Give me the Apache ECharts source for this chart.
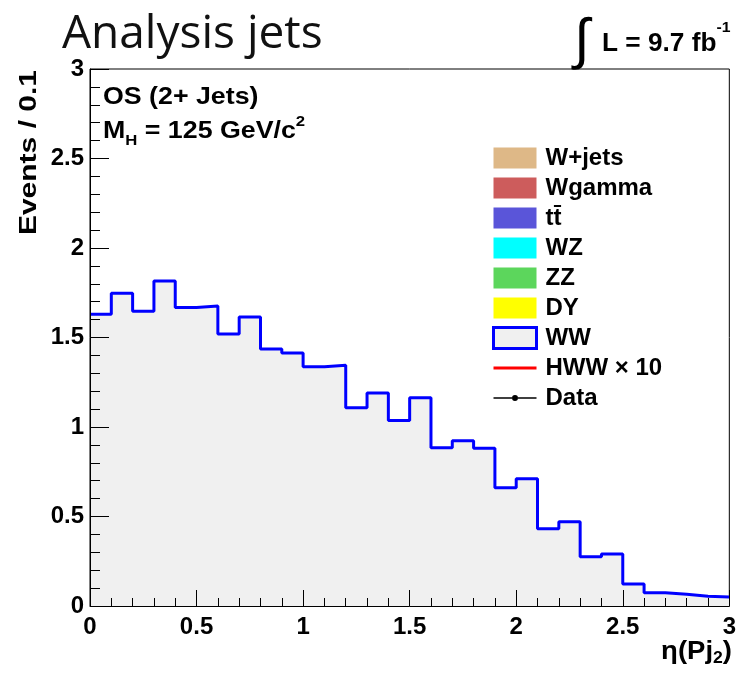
<!DOCTYPE html>
<html>
<head>
<meta charset="utf-8">
<script src="https://cdn.jsdelivr.net/npm/echarts@6/dist/echarts.min.js"></script>
<style>
html,body{margin:0;padding:0;background:#fff;}
#chart{width:739px;height:673px;}
</style>
</head>
<body>
<div id="chart"></div>
<script>
// ---- data ----
const binLow = [0.0,0.1,0.2,0.3,0.4,0.5,0.6,0.7,0.8,0.9,1.0,1.1,1.2,1.3,1.4,1.5,1.6,1.7,1.8,1.9,2.0,2.1,2.2,2.3,2.4,2.5,2.6,2.7,2.8,2.9];
const binWidth = 0.1;
const wwValues = [1.63,1.747,1.646,1.816,1.667,1.676,1.52,1.615,1.436,1.413,1.337,1.345,1.108,1.19,1.037,1.164,0.884,0.923,0.881,0.661,0.711,0.432,0.471,0.275,0.29,0.123,0.074,0.065,0.054,0.05];
const xTicks = [0,0.5,1,1.5,2,2.5,3];
const yTicks = [0,0.5,1,1.5,2,2.5,3];
const legendNames = ['W+jets','Wgamma','tt\u0304','WZ','ZZ','DY','WW','HWW \u00d7 10','Data'];
const fillColors = ['#deb887','#cd5c5c','#5a55d9','#00ffff','#5cd65c','#ffff00'];

// histogram outline points (left bin edges + closing right edge)
const wwPoints = binLow.map((x, i) => [x, wwValues[i]]);
wwPoints.push([binLow[binLow.length - 1] + binWidth, wwValues[wwValues.length - 1]]);

const FONT = 'Liberation Sans, Arial, sans-serif';
const chart = echarts.init(document.getElementById('chart'), null, {renderer: 'canvas'});

const emptySeries = fillColors.map((c, i) => ({
  name: legendNames[i], type: 'bar', data: [], itemStyle: {color: c}
}));

const option = {
  backgroundColor: '#ffffff',
  animation: false,
  title: {
    text: 'Analysis jets', left: 62, top: 12, padding: 0,
    textStyle: {fontFamily: 'Open Sans', fontWeight: 'normal', fontSize: 46, color: '#111'}
  },
  grid: {left: 90, top: 69, width: 643, height: 537, show: true, borderColor: '#000', borderWidth: 1, backgroundColor: 'transparent'},
  xAxis: {
    type: 'value', min: xTicks[0], max: xTicks[xTicks.length - 1], interval: 0.5, z: 10,
    axisLine: {lineStyle: {color: '#000', width: 1}},
    axisTick: {inside: true, length: 16, lineStyle: {color: '#000', width: 1}},
    minorTick: {show: true, splitNumber: 5, length: 8, lineStyle: {color: '#000', width: 1}},
    splitLine: {show: false},
    axisLabel: {fontFamily: FONT, fontWeight: 'bold', fontSize: 24, color: '#000', margin: 9}
  },
  yAxis: {
    type: 'value', min: yTicks[0], max: yTicks[yTicks.length - 1], interval: 0.5, z: 10,
    axisLine: {show: true, lineStyle: {color: '#000', width: 1}},
    axisTick: {show: true, inside: true, length: 19, lineStyle: {color: '#000', width: 1}},
    minorTick: {show: true, splitNumber: 5, length: 10, lineStyle: {color: '#000', width: 1}},
    splitLine: {show: false},
    axisLabel: {fontFamily: FONT, fontWeight: 'bold', fontSize: 24, color: '#000', margin: 6}
  },
  legend: {
    orient: 'vertical', left: 492, top: 146, padding: 0, itemWidth: 43, itemHeight: 21, itemGap: 6,
    icon: 'rect', selectedMode: false,
    textStyle: {fontFamily: FONT, fontWeight: 'bold', fontSize: 24, color: '#000', padding: [0, 0, 0, 4]},
    data: [
      {name: legendNames[0], itemStyle: {color: fillColors[0], borderWidth: 0}},
      {name: legendNames[1], itemStyle: {color: fillColors[1], borderWidth: 0}},
      {name: legendNames[2], itemStyle: {color: fillColors[2], borderWidth: 0}},
      {name: legendNames[3], itemStyle: {color: fillColors[3], borderWidth: 0}},
      {name: legendNames[4], itemStyle: {color: fillColors[4], borderWidth: 0}},
      {name: legendNames[5], itemStyle: {color: fillColors[5], borderWidth: 0}},
      {name: legendNames[6], icon: 'rect', itemStyle: {color: '#f0f0f0', borderColor: '#0000ff', borderWidth: 3}},
      {name: legendNames[7], icon: 'path://M0,0L43,0L43,3L0,3Z', itemStyle: {color: '#ff0000', borderWidth: 0}},
      {name: legendNames[8], icon: 'path://M0,10.3L18.5,10.3L18.5,11.7L0,11.7Z M24.5,10.3L43,10.3L43,11.7L24.5,11.7Z M18.5,11A3,3 0 1 0 24.5,11A3,3 0 1 0 18.5,11Z', itemStyle: {color: '#000', borderWidth: 0}}
    ]
  },
  graphic: [
    {type: 'text', x: 29, y: 70, rotation: Math.PI / 2, scaleX: 1.25,
     style: {text: 'Events / 0.1', fontFamily: FONT, fontWeight: 'bold', fontSize: 24, fill: '#000', textAlign: 'right', textVerticalAlign: 'middle'}},
    {type: 'text', x: 103, y: 97, scaleX: 1.115,
     style: {text: 'OS (2+ Jets)', fontFamily: FONT, fontWeight: 'bold', fontSize: 24, fill: '#000', textAlign: 'left', textVerticalAlign: 'middle'}},
    {type: 'text', x: 103, y: 131, scaleX: 1.115,
     style: {text: '{a|M}{b|H}{a| = 125 GeV/c}{c|2}', textAlign: 'left', textVerticalAlign: 'middle',
       rich: {
         a: {fontFamily: FONT, fontWeight: 'bold', fontSize: 24, fill: '#000', lineHeight: 34},
         b: {fontFamily: FONT, fontWeight: 'bold', fontSize: 15, fill: '#000', lineHeight: 15, verticalAlign: 'bottom'},
         c: {fontFamily: FONT, fontWeight: 'bold', fontSize: 15, fill: '#000', lineHeight: 15, verticalAlign: 'top'}
       }}},
    {type: 'text', x: 582, y: 43,
     style: {text: '\u222b', fontFamily: FONT, fontSize: 56, fill: '#000', textAlign: 'center', textVerticalAlign: 'middle'}},
    {type: 'text', x: 602, y: 44, scaleX: 1.05,
     style: {text: '{a|L = 9.7 fb}{c|-1}', textAlign: 'left', textVerticalAlign: 'middle',
       rich: {
         a: {fontFamily: FONT, fontWeight: 'bold', fontSize: 25, fill: '#000', lineHeight: 48},
         c: {fontFamily: FONT, fontWeight: 'bold', fontSize: 15, fill: '#000', lineHeight: 15, verticalAlign: 'top'}
       }}},
    {type: 'text', x: 732, y: 652, scaleX: 1.1,
     style: {text: '{a|\u03b7(Pj}{b|2}{a|)}', textAlign: 'right', textVerticalAlign: 'middle',
       rich: {
         a: {fontFamily: FONT, fontWeight: 'bold', fontSize: 25, fill: '#000', lineHeight: 30},
         b: {fontFamily: FONT, fontWeight: 'bold', fontSize: 16, fill: '#000', lineHeight: 16, verticalAlign: 'bottom'}
       }}}
  ],
  series: emptySeries.concat([
    {
      name: legendNames[6], type: 'line', step: 'end', data: wwPoints, symbol: 'none', z: 3,
      color: '#0000ff',
      lineStyle: {color: '#0000ff', width: 3},
      areaStyle: {color: '#f0f0f0', opacity: 1}
    },
    {name: legendNames[7], type: 'line', data: [], symbol: 'none', color: '#ff0000', lineStyle: {color: '#ff0000', width: 3}},
    {name: legendNames[8], type: 'line', data: [], symbol: 'circle', symbolSize: 6, color: '#000', lineStyle: {color: '#000', width: 1}}
  ])
};
chart.setOption(option);
</script>
</body>
</html>
